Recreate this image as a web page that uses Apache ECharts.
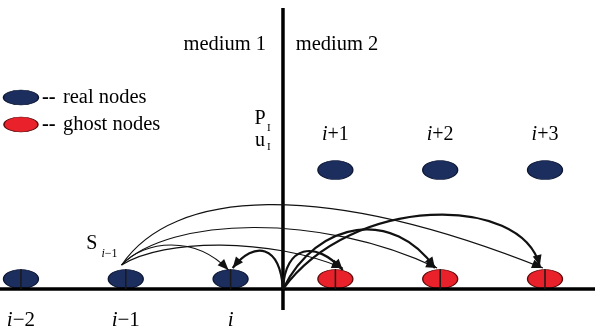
<!DOCTYPE html>
<html><head><meta charset="utf-8">
<script src="https://cdn.jsdelivr.net/npm/echarts@6/dist/echarts.min.js"></script>
<style>html,body{margin:0;padding:0;background:#fff}#c{width:595px;height:330px}</style>
</head><body><div id="c"></div>
<script>
// ---- data (x: node spacing units, interface at 0; y: height above the baseline) ----
const realNodes = [-2.5, -1.5, -0.5];
const ghostNodes = [0.5, 1.5, 2.5];
const upperNodes = [0.5, 1.5, 2.5];
const groundLevel = 10;
const upperLevel = 119;
const lowerLabels = ['i−2', 'i−1', 'i'];
const upperLabels = ['i+1', 'i+2', 'i+3'];
const lowerLabelLevel = -31;
const upperLabelLevel = 154;
const xRange = [-2.7, 2.977];
const yRange = [-41, 289];
const interfaceX = 0;
const interfaceSpan = [-21, 281];
const mediumLabels = ['medium 1', 'medium 2'];
const mediumX = [-0.555, 0.515];
const mediumLevel = 244;
const legendNames = ['real nodes', 'ghost nodes'];
const legendLevels = [191.5, 164.5];
const legendX = -2.5;
const legendDashX = -2.30;
const legendTextX = -2.10;
// cubic arrows: [x0, y0, c1x, c1y, c2x, c2y, x3, y3]
const thinArrows = [
  [-1.54, 24, -1.05, 100, 0.35, 110, 2.48, 21],  // S(i-1) -> i+3
  [-1.54, 24, -1.08, 72, 0.35, 77, 1.47, 21],    // S(i-1) -> i+2
  [-1.54, 24, -1.13, 51, -0.12, 51, 0.57, 21],   // S(i-1) -> i+1
  [-1.54, 24, -1.32, 49, -0.84, 54, -0.52, 19]   // S(i-1) -> i
];
const thickArrows = [
  [0, 0, -0.03, 44, -0.27, 49, -0.48, 21],       // interface -> i
  [0, 0, 0.02, 44, 0.31, 49, 0.57, 19],          // interface -> i+1
  [0, 0, 0.33, 70, 1.06, 80, 1.45, 21],          // interface -> i+2
  [0, 0, 0.66, 95, 2.28, 95, 2.45, 23]           // interface -> i+3
];
const sLabel = {x: -1.823, y: 45, sx: -1.655, sy: 35, main: 'S', sub: 'i−1'};
const pLabel = {x: -0.219, y: 170, sx: -0.134, sy: 161, main: 'P', sub: 'I'};
const uLabel = {x: -0.219, y: 148, sx: -0.134, sy: 142, main: 'u', sub: 'I'};

const FONT = 'Liberation Serif';
const INK = '#000';
const BLUE = '#1c2e5e', RED = '#e8212a';

function arrowRender(width) {
  return function (params, api) {
    const p0 = api.coord([api.value(0), api.value(1)]);
    const c1 = api.coord([api.value(2), api.value(3)]);
    const c2 = api.coord([api.value(4), api.value(5)]);
    const p3 = api.coord([api.value(6), api.value(7)]);
    const dx = p3[0] - c2[0], dy = p3[1] - c2[1];
    const L = Math.hypot(dx, dy) || 1;
    const ux = dx / L, uy = dy / L;
    const len = 11, hw = 4.5;
    const bx = p3[0] - ux * len, by = p3[1] - uy * len;
    const pts = [[p3[0], p3[1]], [bx - uy * hw, by + ux * hw], [bx + uy * hw, by - ux * hw]];
    return {
      type: 'group',
      children: [
        {type: 'bezierCurve',
         shape: {x1: p0[0], y1: p0[1], cpx1: c1[0], cpy1: c1[1], cpx2: c2[0], cpy2: c2[1], x2: p3[0], y2: p3[1]},
         style: {stroke: '#111', lineWidth: width, fill: null}},
        {type: 'polygon', shape: {points: pts}, style: {fill: '#111'}}
      ]
    };
  };
}

function italicLead(s, size) {
  return {
    formatter: '{it|' + s.charAt(0) + '}{n|' + s.slice(1) + '}',
    rich: {
      it: {fontFamily: FONT, fontSize: size, fontStyle: 'italic', color: INK},
      n: {fontFamily: FONT, fontSize: size, color: INK}
    }
  };
}

const textData = [];
lowerLabels.forEach((t, k) => textData.push({value: [realNodes[k], lowerLabelLevel], label: italicLead(t, 21)}));
upperLabels.forEach((t, k) => textData.push({value: [upperNodes[k], upperLabelLevel], label: italicLead(t, 20)}));
mediumLabels.forEach((t, k) => textData.push({value: [mediumX[k], mediumLevel],
  label: {formatter: t, fontSize: 20.5}}));
[sLabel, pLabel, uLabel].forEach(o => {
  textData.push({value: [o.x, o.y], label: {formatter: o.main, fontSize: 20}});
  if (o.sub.charAt(0) === 'i') {
    textData.push({value: [o.sx, o.sy], label: italicLead(o.sub, 12)});
  } else {
    textData.push({value: [o.sx, o.sy], label: {formatter: o.sub, fontSize: 11}});
  }
});

const legendDashData = legendNames.map((t, k) => ({value: [legendDashX, legendLevels[k]], label: {formatter: '--'}}));
const legendTextData = legendNames.map((t, k) => ({value: [legendTextX, legendLevels[k]], label: {formatter: t}}));

const textItem = {color: INK, opacity: 1};

const chart = echarts.init(document.getElementById('c'), null, {renderer: 'canvas'});
chart.setOption({
  animation: false,
  backgroundColor: '#fff',
  grid: {left: 0, right: 0, top: 0, bottom: 0},
  xAxis: {type: 'value', min: xRange[0], max: xRange[1], show: false},
  yAxis: {type: 'value', min: yRange[0], max: yRange[1], show: false},
  series: [
    {type: 'scatter', z: 2, silent: true, symbol: 'circle', symbolSize: [35, 19],
     itemStyle: {color: BLUE, borderColor: '#0d1733', borderWidth: 1, opacity: 1},
     data: realNodes.map(x => [x, groundLevel]).concat(upperNodes.map(x => [x, upperLevel]))},
    {type: 'scatter', z: 2, silent: true, symbol: 'circle', symbolSize: [35, 19],
     itemStyle: {color: RED, borderColor: '#5a0a0a', borderWidth: 1, opacity: 1},
     data: ghostNodes.map(x => [x, groundLevel])},
    {type: 'scatter', z: 2, silent: true, symbol: 'circle', symbolSize: [35, 15],
     itemStyle: {color: BLUE, borderColor: '#0d1733', borderWidth: 1, opacity: 1},
     data: [[legendX, legendLevels[0]]]},
    {type: 'scatter', z: 2, silent: true, symbol: 'circle', symbolSize: [34, 15],
     itemStyle: {color: RED, borderColor: '#5a0a0a', borderWidth: 1, opacity: 1},
     data: [[legendX, legendLevels[1]]]},
    {type: 'scatter', z: 4, silent: true, symbol: 'rect', symbolSize: [1.5, 20],
     itemStyle: {color: '#1a1a1a', opacity: 1},
     data: realNodes.concat(ghostNodes).map(x => [x, groundLevel])},
    {type: 'line', z: 3, silent: true, showSymbol: false, symbol: 'none',
     lineStyle: {color: '#000', width: 3.5},
     data: [[xRange[0], 0], [xRange[1], 0]]},
    {type: 'line', z: 3, silent: true, showSymbol: false, symbol: 'none',
     lineStyle: {color: '#000', width: 3.5},
     data: [[interfaceX, interfaceSpan[0]], [interfaceX, interfaceSpan[1]]]},
    {type: 'custom', z: 5, silent: true, clip: false, renderItem: arrowRender(1.1),
     encode: {x: [0, 2, 4, 6], y: [1, 3, 5, 7]}, data: thinArrows},
    {type: 'custom', z: 5, silent: true, clip: false, renderItem: arrowRender(2.2),
     encode: {x: [0, 2, 4, 6], y: [1, 3, 5, 7]}, data: thickArrows},
    {type: 'scatter', z: 6, silent: true, symbolSize: 0, itemStyle: textItem,
     label: {show: true, position: 'inside', align: 'center', verticalAlign: 'middle',
             fontFamily: FONT, fontSize: 20, color: INK, textBorderWidth: 0},
     data: textData},
    {type: 'scatter', z: 6, silent: true, symbolSize: 0, itemStyle: textItem,
     label: {show: true, position: 'right', distance: 0, align: 'left', verticalAlign: 'middle',
             fontFamily: FONT, fontSize: 20.5, fontWeight: 'bold', color: INK, textBorderWidth: 0},
     data: legendDashData},
    {type: 'scatter', z: 6, silent: true, symbolSize: 0, itemStyle: textItem,
     label: {show: true, position: 'right', distance: 0, align: 'left', verticalAlign: 'middle',
             fontFamily: FONT, fontSize: 20.5, color: INK, textBorderWidth: 0},
     data: legendTextData}
  ]
});
</script>
</body></html>
